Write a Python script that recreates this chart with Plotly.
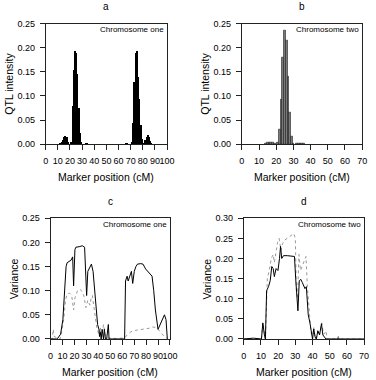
import plotly.graph_objects as go

# ---- Panel a: QTL intensity, chromosome one ----
a_pos = [12, 13, 14, 15, 16, 17, 18, 19, 21, 22, 23, 24, 25, 26, 27, 28, 29,
         33, 34, 35, 65, 66, 67, 68, 71, 72, 73, 74, 75, 76, 77, 78, 79, 80,
         81, 82, 83, 84, 85, 86, 87]
a_val = [0.002, 0.005, 0.010, 0.016, 0.019, 0.015, 0.006, 0.001, 0.005, 0.080,
         0.155, 0.195, 0.190, 0.147, 0.076, 0.025, 0.005,
         0.002, 0.002, 0.001, 0.001, 0.002, 0.002, 0.001, 0.005, 0.045, 0.130,
         0.190, 0.195, 0.140, 0.095, 0.040, 0.012, 0.004,
         0.003, 0.010, 0.016, 0.020, 0.015, 0.007, 0.002]

# ---- Panel b: QTL intensity, chromosome two ----
b_pos = [14, 15, 16, 17, 18, 19, 21, 22, 23, 24, 25, 26, 27, 28, 29, 30,
         32, 33, 34, 35, 36]
b_val = [0.002, 0.003, 0.003, 0.003, 0.003, 0.002, 0.003, 0.030, 0.093, 0.180,
         0.235, 0.215, 0.140, 0.065, 0.015, 0.002,
         0.001, 0.002, 0.002, 0.002, 0.001]

# ---- Panel c: variance, chromosome one ----
c_solid_x = [0, 5, 6.2, 8.4, 10.3, 11.7, 13, 13.9, 15.8, 17.1, 18.5, 19.3, 20.4,
             21.2, 23.9, 26.6, 28.5, 30.2, 31.2, 32.9, 34.2, 35.6, 37, 38, 39.4,
             40.5, 41, 41.6, 42.4, 43.2, 44.3, 45.1, 45.9, 47, 48.4, 49, 62,
             62.8, 64.1, 65, 66.6, 67.7, 68.8, 70.1, 71.5, 72.8, 75.5, 77.4, 79.6,
             81.5, 83.7, 85, 86.4, 87.8, 90, 91.8, 94, 95.4, 96.7, 97.8]
c_solid_y = [0, 0, 0.002, 0.010, 0.040, 0.090, 0.150, 0.158, 0.160, 0.163, 0.170,
             0.110, 0.185, 0.190, 0.191, 0.193, 0.190, 0.090, 0.140, 0.150, 0.155,
             0.140, 0.100, 0.060, 0.030, 0.020, 0.005, 0.015, 0.000, 0.020, 0.000,
             0.020, 0.000, 0.000, 0.030, 0.000, 0.000, 0.120, 0.130, 0.120, 0.135,
             0.140, 0.115, 0.140, 0.150, 0.155, 0.156, 0.155, 0.145, 0.140, 0.135,
             0.130, 0.100, 0.060, 0.020, 0.030, 0.045, 0.050, 0.040, 0.000]
c_dot_x = [0, 1.5, 2.2, 3, 8, 9, 11, 12.5, 13.9, 15.8, 17.7, 19.3, 20.4, 22.6,
           24.5, 26.6, 28, 29.6, 31.2, 32.9, 34, 35, 36.1, 37.5, 38.9, 40.5, 41.6,
           42.9, 44.3, 45.7, 47, 55, 62, 64.7, 67.4, 71.5, 76.9, 82.3, 85, 87.8,
           90.2, 93.2, 95.9, 97.5]
c_dot_y = [0, 0, 0.020, 0.005, 0.000, 0.010, 0.040, 0.080, 0.093, 0.095, 0.090,
           0.060, 0.085, 0.100, 0.103, 0.098, 0.088, 0.065, 0.080, 0.070, 0.085,
           0.090, 0.070, 0.040, 0.020, 0.010, 0.025, 0.005, 0.030, 0.010, 0.002,
           0.001, 0.002, 0.010, 0.015, 0.018, 0.020, 0.022, 0.025, 0.024, 0.020,
           0.010, 0.005, 0.002]

# ---- Panel d: variance, chromosome two ----
d_solid_x = [0, 5.6, 10.3, 11.1, 12, 12.6, 13.3, 14.4, 15.4, 16.3, 17.1, 17.8,
             18.8, 19.9, 20.8, 21.4, 22.1, 23.1, 25.3, 27.8, 29.5, 30.2, 31,
             31.5, 32.3, 33.2, 34.1, 35.1, 35.6, 36.4, 37, 37.5, 38.5, 39.4, 40,
             40.7, 41.5, 42.2, 43.1, 44.1, 45.2, 46, 46.9, 47.8, 54.5, 55, 55.5,
             70]
d_solid_y = [0, 0.002, 0.000, 0.040, 0.010, 0.000, 0.120, 0.130, 0.145, 0.180,
             0.175, 0.155, 0.175, 0.170, 0.200, 0.230, 0.200, 0.207, 0.207, 0.206,
             0.205, 0.150, 0.100, 0.070, 0.145, 0.148, 0.140, 0.130, 0.125, 0.130,
             0.080, 0.060, 0.040, 0.010, 0.000, 0.025, 0.005, 0.000, 0.020, 0.010,
             0.038, 0.010, 0.005, 0.000, 0.000, 0.003, 0.000, 0.000]
d_dot_x = [0, 10.3, 11.1, 12, 12.6, 13.7, 14.8, 16, 17.1, 17.8, 18.8, 19.7, 20.6,
           21.6, 22.5, 23.5, 25.3, 27.2, 29.1, 30, 30.6, 31.3, 32.1, 33, 34,
           35.2, 36.2, 37, 38, 39, 40, 40.7, 41.5, 42.2, 43.1, 44.1, 45.4, 46.3,
           47.3, 47.8, 48.5, 54.5, 55, 55.5, 70]
d_dot_y = [0, 0.000, 0.040, 0.010, 0.000, 0.150, 0.170, 0.200, 0.210, 0.190,
           0.220, 0.240, 0.250, 0.220, 0.235, 0.245, 0.250, 0.255, 0.262, 0.250,
           0.120, 0.100, 0.210, 0.170, 0.180, 0.195, 0.205, 0.130, 0.060, 0.020,
           0.000, 0.028, 0.005, 0.000, 0.022, 0.012, 0.040, 0.012, 0.015, 0.020,
           0.000, 0.000, 0.007, 0.000, 0.000]

panel_titles = ["a", "b", "c", "d"]
chrom_labels = ["Chromosome one", "Chromosome two", "Chromosome one", "Chromosome two"]
y_titles = ["QTL intensity", "QTL intensity", "Variance", "Variance"]
x_title = "Marker position (cM)"

W, H = 376, 380
FONT = "Liberation Sans, Arial, sans-serif"

# plot-area boxes in pixels: left, right, top, bottom
boxes = [(44, 169, 19, 143), (246, 370, 19, 143), (49, 172, 219, 343), (248, 372, 219, 343)]

fig = go.Figure()
fig.add_trace(go.Bar(x=a_pos, y=a_val, width=1, marker=dict(color="black", line=dict(width=0)),
                     xaxis="x", yaxis="y", showlegend=False))
fig.add_trace(go.Bar(x=b_pos, y=b_val, width=1, marker=dict(color="#7a7a7a", line=dict(color="#222", width=0.6)),
                     xaxis="x2", yaxis="y2", showlegend=False))
fig.add_trace(go.Scatter(x=c_dot_x, y=c_dot_y, mode="lines", line=dict(color="#999999", width=1, dash="dot"),
                         xaxis="x3", yaxis="y3", showlegend=False))
fig.add_trace(go.Scatter(x=c_solid_x, y=c_solid_y, mode="lines", line=dict(color="black", width=1),
                         xaxis="x3", yaxis="y3", showlegend=False))
fig.add_trace(go.Scatter(x=d_dot_x, y=d_dot_y, mode="lines", line=dict(color="#999999", width=1, dash="dot"),
                         xaxis="x4", yaxis="y4", showlegend=False))
fig.add_trace(go.Scatter(x=d_solid_x, y=d_solid_y, mode="lines", line=dict(color="black", width=1),
                         xaxis="x4", yaxis="y4", showlegend=False))

xranges = [[0, 100], [0, 70], [0, 100], [0, 70]]
yranges = [[0, 0.25], [0, 0.25], [0, 0.25], [0, 0.30]]

layout = dict(width=W, height=H, margin=dict(l=0, r=0, t=0, b=0),
              paper_bgcolor="white", plot_bgcolor="white", bargap=0,
              font=dict(family=FONT, color="black", size=9))
annotations = []
for i, (l, r, t, b) in enumerate(boxes):
    sfx = "" if i == 0 else str(i + 1)
    xd = [l / W, r / W]
    yd = [1 - b / H, 1 - t / H]
    axcommon = dict(showline=True, linecolor="#222", linewidth=1, mirror=True,
                    ticks="outside", ticklen=5, tickcolor="#222", showgrid=False,
                    zeroline=False, tickangle=0,
                    tickfont=dict(size=9, family=FONT, color="black"))
    layout["xaxis" + sfx] = dict(domain=xd, range=xranges[i], dtick=10, tick0=0,
                                 anchor="y" + sfx, ticklabelstandoff=3, **axcommon)
    layout["yaxis" + sfx] = dict(domain=yd, range=yranges[i], dtick=0.05, tick0=0,
                                 tickformat=".2f", anchor="x" + sfx, ticklabelstandoff=3, **axcommon)
    cx = (l + r) / 2
    annotations.append(dict(text=panel_titles[i], x=cx / W, y=1 - (t - 17) / H, xref="paper", yref="paper",
                            showarrow=False, font=dict(size=10, family=FONT), xanchor="center", yanchor="middle"))
    annotations.append(dict(text=chrom_labels[i], x=(r - 1) / W, y=1 - (t + 6) / H, xref="paper", yref="paper",
                            showarrow=False, font=dict(size=8, family=FONT), xanchor="right", yanchor="middle"))
    annotations.append(dict(text=x_title, x=cx / W, y=1 - (b + 34) / H, xref="paper", yref="paper",
                            showarrow=False, font=dict(size=10.5, family=FONT), xanchor="center", yanchor="middle"))
    annotations.append(dict(text=y_titles[i], x=(l - 38) / W, y=1 - ((t + b) / 2) / H, xref="paper", yref="paper",
                            showarrow=False, font=dict(size=10.5, family=FONT), textangle=-90,
                            xanchor="center", yanchor="middle"))
layout["annotations"] = annotations
fig.update_layout(**layout)
fig.write_html("out.html")
